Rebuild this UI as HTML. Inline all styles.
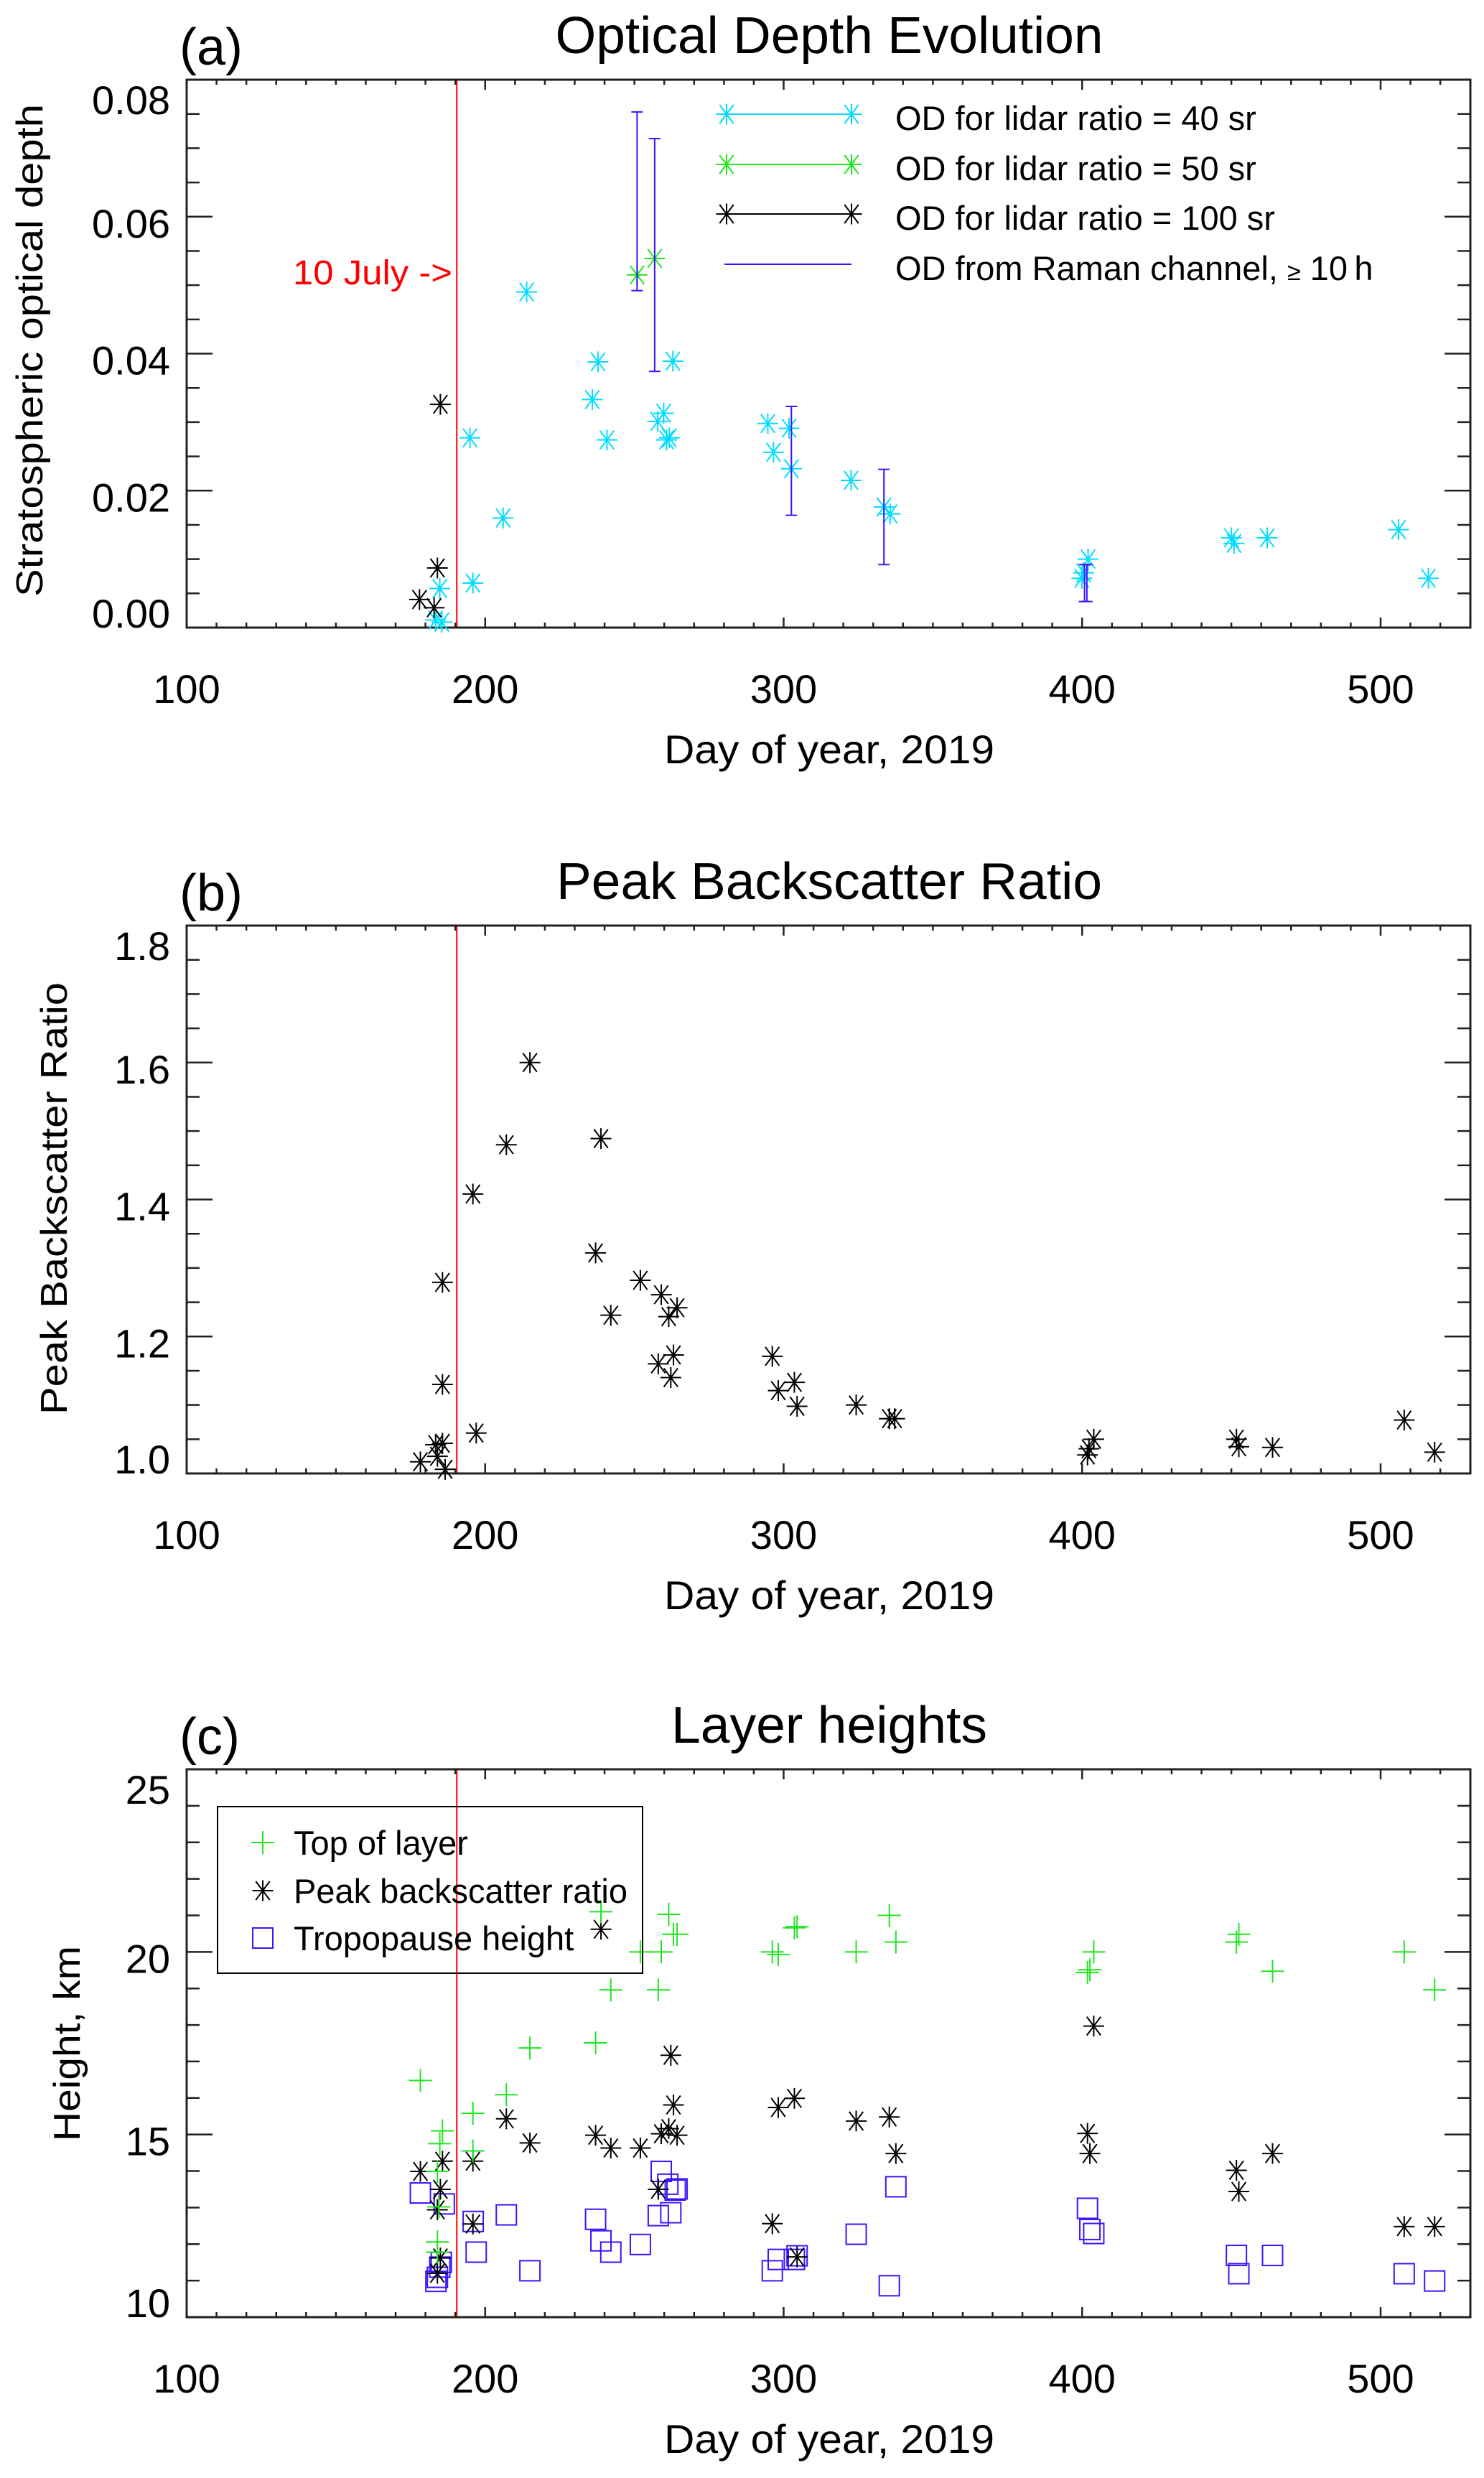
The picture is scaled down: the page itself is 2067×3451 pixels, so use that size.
<!DOCTYPE html>
<html><head><meta charset="utf-8"><style>
html,body{margin:0;padding:0;background:#fff;}
svg{display:block;font-family:"Liberation Sans",Arial,sans-serif;}
</style></head><body>
<svg id="fig" width="2067" height="3451" viewBox="0 0 2067 3451" xmlns="http://www.w3.org/2000/svg"></svg>
<script>
// ---------- Panel (a) data ----------
const od40Days = [213.9,194.9,206.0,195.9,184.8,183.4,185.5,237.8,235.9,240.8,262.9,259.8,257.8,261.7,260.8,294.7,301.8,296.6,302.6,322.6,333.6,335.7,402.0,400.5,399.9,450.0,450.9,462.0,506.0,516.0];
const od40Vals = [0.0490,0.0277,0.0160,0.0065,0.0057,0.0011,0.0008,0.0388,0.0333,0.0274,0.0389,0.0313,0.0301,0.0277,0.0274,0.0298,0.0291,0.0256,0.0232,0.0215,0.0176,0.0166,0.0100,0.0080,0.0072,0.0131,0.0123,0.0131,0.0143,0.0072];
const od50Days = [250.9,256.8];
const od50Vals = [0.0515,0.0539];
const od100Days = [185.0,184.0,178.0,182.9];
const od100Vals = [0.0326,0.0087,0.0041,0.0029];
const ramanDays = [250.9,256.8,302.6,333.6,400.8,401.6];
const ramanLow = [0.0492,0.0374,0.0164,0.0092,0.0038,0.0038];
const ramanHigh = [0.0753,0.0714,0.0323,0.0231,0.0092,0.0092];
const odTicks = ["0.00","0.02","0.04","0.06","0.08"];
// ---------- Panel (b) data ----------
const bsrDays = [215.0,207.1,238.8,195.9,237.0,252.0,259.0,242.1,261.5,264.3,185.7,185.7,296.2,258.0,263.1,262.2,298.2,303.6,304.5,324.3,335.4,337.2,197.0,507.9,518.1,402.3,403.9,401.8,451.7,452.5,463.8,178.3,183.4,185.7,184.0,186.6];
const bsrVals = [1.600,1.480,1.489,1.408,1.322,1.282,1.261,1.231,1.229,1.242,1.279,1.130,1.171,1.160,1.173,1.140,1.121,1.133,1.098,1.100,1.080,1.080,1.059,1.078,1.031,1.036,1.050,1.027,1.050,1.039,1.038,1.017,1.042,1.044,1.025,1.006];
const bsrTicks = ["1.0","1.2","1.4","1.6","1.8"];
// ---------- Panel (c) data ----------
const topDays = [178.3,185.7,184.8,184.0,184.5,184.0,184.0,195.9,195.9,207.1,215.0,237.0,238.8,242.1,252.0,258.0,259.0,261.5,263.1,264.3,296.2,298.2,303.6,304.5,324.3,335.4,337.6,401.8,402.6,403.9,451.7,452.5,463.8,507.9,518.1];
const topVals = [16.48,15.10,14.75,13.99,13.02,12.06,11.78,15.58,14.55,16.09,17.37,17.51,21.10,18.96,20.00,18.96,20.00,21.03,20.48,20.48,20.00,19.93,20.66,20.69,20.00,21.00,20.27,19.44,19.51,20.00,20.27,20.48,19.47,20.00,18.96];
const peakDays = [178.3,185.7,185.0,184.0,185.0,184.0,195.9,195.9,207.1,215.0,237.0,238.8,242.1,252.0,258.0,259.0,261.5,262.2,263.1,264.3,296.2,298.2,303.6,304.5,324.3,335.4,337.6,401.8,402.6,403.9,451.7,452.5,463.8,507.9,518.1];
const peakVals = [13.99,14.27,13.50,12.94,11.62,11.20,14.27,12.55,15.43,14.77,14.98,20.62,14.63,14.63,13.50,15.02,15.16,17.17,15.81,14.98,12.56,15.74,15.99,11.65,15.37,15.48,14.48,15.03,14.48,17.97,14.02,13.44,14.48,12.48,12.48];
const tropDays = [178.3,186.3,184.0,184.8,185.3,183.5,197.0,196.0,207.1,215.0,237.0,238.8,242.1,252.0,259.0,261.2,258.0,262.2,263.7,264.3,296.2,298.2,303.6,304.5,324.3,335.4,337.6,401.8,402.6,403.9,451.7,452.5,463.8,507.9,518.1];
const tropVals = [13.40,13.10,11.09,11.37,11.50,10.98,11.78,12.62,12.80,11.27,12.68,12.09,11.78,11.99,13.99,13.64,12.78,12.86,13.48,13.51,11.27,11.58,11.58,11.68,12.27,10.86,13.57,12.98,12.40,12.29,11.69,11.19,11.69,11.19,10.99];
const hTicks = ["10","15","20","25"];
const xTicks = ["100","200","300","400","500"];

const svg = document.getElementById('fig');
const NS = 'http://www.w3.org/2000/svg';
const X0 = 260, X1 = 2048, DMIN = 100, DMAX = 530.07;
const xs = d => X0 + (d - DMIN) / (DMAX - DMIN) * (X1 - X0);
const CYAN = '#00dcff', GREEN = '#1ee61e', BLUE = '#3c14ff', AX = '#222';

function el(tag, attrs, parent) {
  const e = document.createElementNS(NS, tag);
  for (const k in attrs) e.setAttribute(k, attrs[k]);
  (parent || svg).appendChild(e);
  return e;
}
function txt(s, attrs, parent) { const t = el('text', attrs, parent); t.textContent = s; return t; }
function line(x1,y1,x2,y2,stroke,w,parent){ return el('line',{x1,y1,x2,y2,stroke,'stroke-width':w},parent); }
function star(g, x, y, color) {
  const r = 14.5, d = 13;
  line(x, y - r, x, y + r, color, 2, g);
  line(x - r, y, x + r, y, color, 2, g);
  line(x - d*0.75, y - d, x + d*0.75, y + d, color, 2, g);
  line(x - d*0.75, y + d, x + d*0.75, y - d, color, 2, g);
}
function plus(g, x, y, color) {
  line(x, y - 16, x, y + 16, color, 2, g);
  line(x - 16, y, x + 16, y, color, 2, g);
}
function square(g, x, y, color) {
  el('rect', {x: x - 14, y: y - 14, width: 28, height: 28, fill: 'none', stroke: color, 'stroke-width': 2}, g);
}

function panel(o) {
  const top = o.top, bot = top + 763;
  const ys = v => bot - (v - o.ymin) / (o.ymax - o.ymin) * 763;
  const g = el('g', {});
  
  
  // letter + title
  const lt = txt(o.letter, {x: 250, y: top - 21, 'font-size': 72, fill: '#000'}, g);
  
  
  const tt = txt(o.title, {x: 1155, y: top - 37, 'font-size': 72, 'text-anchor': 'middle', fill: '#000', textLength: o.titleLen, lengthAdjust: 'spacingAndGlyphs'}, g);
  
  
  // red line (10 July)
  const rl = line(xs(190.5), top, xs(190.5), bot, '#ff0000', 2, g);
  
  
  // axes box
  const box = el('rect', {x: X0, y: top, width: X1 - X0, height: 763, fill: 'none', stroke: AX, 'stroke-width': 3}, g);
  
  
  // x ticks
  for (let d = 100; d <= 530; d += 10) {
    const x = xs(d), maj = d % 100 === 0, L = maj ? 14 : 7;
    line(x, bot, x, bot - L, AX, 2.5, g);
    line(x, top, x, top + L, AX, 2.5, g);
  }
  xTicks.forEach(s => {
    const t = txt(s, {x: xs(+s), y: bot + 105, 'font-size': 56, 'text-anchor': 'middle', fill: '#000'}, g);
    
    
  });
  const xt = txt('Day of year, 2019', {x: 1155, y: bot + 189, 'font-size': 56, 'text-anchor': 'middle', fill: '#000', textLength: 460, lengthAdjust: 'spacingAndGlyphs'}, g);
  
  
  // y ticks
  const nMinor = Math.round((o.ymax - o.ymin) / o.minor);
  for (let i = 0; i <= nMinor; i++) {
    const v = o.ymin + i * o.minor, y = ys(v);
    const maj = i % o.per === 0, L = maj ? 36 : 18;
    line(X0, y, X0 + L, y, AX, 2.5, g);
    line(X1, y, X1 - L, y, AX, 2.5, g);
  }
  o.ticks.forEach(s => {
    const y = ys(+s);
    const by = Math.min(bot, Math.max(top + 48, y + 29));
    const t = txt(s, {x: 237, y: by, 'font-size': 56, 'text-anchor': 'end', fill: '#000'}, g);
    
    
  });
  const yt = txt(o.ytitle, {x: 0, y: 0, 'font-size': 52, 'text-anchor': 'middle', fill: '#000', textLength: o.ytLen, lengthAdjust: 'spacingAndGlyphs', transform: `translate(${o.ytX},${o.ytY}) rotate(-90)`}, g);
  
  
  return {g, ys, top, bot};
}

// ===== Panel (a) =====
const A = panel({name: 'optical-depth-panel', letter: '(a)', title: 'Optical Depth Evolution', titleLen: 763, top: 111, ymin: 0, ymax: 0.08, minor: 0.005, per: 4, ticks: odTicks, ytitle: 'Stratospheric optical depth', ytLen: 686, ytX: 59, ytY: 488});
{
  const rt = txt('10 July ->', {x: 630, y: 396, 'font-size': 48, 'text-anchor': 'end', fill: '#ff0000', textLength: 222, lengthAdjust: 'spacingAndGlyphs'}, A.g);
  
  
  const s40 = el('g', {}, A.g);
  
  
  od40Days.forEach((d, i) => star(s40, xs(d), A.ys(od40Vals[i]), CYAN));
  const s50 = el('g', {}, A.g);
  
  
  od50Days.forEach((d, i) => star(s50, xs(d), A.ys(od50Vals[i]), GREEN));
  const s100 = el('g', {}, A.g);
  
  
  od100Days.forEach((d, i) => star(s100, xs(d), A.ys(od100Vals[i]), '#000'));
  const rg = el('g', {}, A.g);
  
  
  ramanDays.forEach((d, i) => {
    const x = xs(d), y1 = A.ys(ramanHigh[i]), y2 = A.ys(ramanLow[i]);
    line(x, y1, x, y2, BLUE, 2, rg);
    line(x - 8, y1, x + 8, y1, BLUE, 2, rg);
    line(x - 8, y2, x + 8, y2, BLUE, 2, rg);
  });
  // legend
  const lg = el('g', {}, A.g);
  
  
  const rows = [['OD for lidar ratio = 40 sr', CYAN, 159], ['OD for lidar ratio = 50 sr', GREEN, 229], ['OD for lidar ratio = 100 sr', '#000', 298]];
  rows.forEach(r => {
    const e = el('g', {}, lg);
    
    
    line(1012, r[2], 1186, r[2], r[1], 2, e);
    star(e, 1012, r[2], r[1]);
    star(e, 1186, r[2], r[1]);
    txt(r[0], {x: 1247, y: r[2] + 22, 'font-size': 47, fill: '#000'}, e);
  });
  const e4 = el('g', {}, lg);
  
  
  line(1009, 368, 1186, 368, BLUE, 2, e4);
  const t4 = txt('OD from Raman channel, ', {x: 1247, y: 390, 'font-size': 47, fill: '#000'}, e4);
  const ts = el('tspan', {'font-size': 34}, t4); ts.textContent = '≥';
  const ts2 = el('tspan', {'font-size': 47}, t4); ts2.textContent = ' 10\u2009h';
}

// ===== Panel (b) =====
const B = panel({name: 'backscatter-panel', letter: '(b)', title: 'Peak Backscatter Ratio', titleLen: 760, top: 1289, ymin: 1.0, ymax: 1.8, minor: 0.05, per: 4, ticks: bsrTicks, ytitle: 'Peak Backscatter Ratio', ytLen: 602, ytX: 93, ytY: 1669});
{
  const s = el('g', {}, B.g);
  
  
  bsrDays.forEach((d, i) => star(s, xs(d), B.ys(bsrVals[i]), '#000'));
}

// ===== Panel (c) =====
const C = panel({name: 'layer-heights-panel', letter: '(c)', title: 'Layer heights', titleLen: 440, top: 2464, ymin: 10, ymax: 25, minor: 1, per: 5, ticks: hTicks, ytitle: 'Height, km', ytLen: 272, ytX: 111, ytY: 2846});
{
  const sq = el('g', {}, C.g);
  
  
  tropDays.forEach((d, i) => square(sq, xs(d), C.ys(tropVals[i]), BLUE));
  const pk = el('g', {}, C.g);
  
  
  peakDays.forEach((d, i) => star(pk, xs(d), C.ys(peakVals[i]), '#000'));
  const tp = el('g', {}, C.g);
  
  
  topDays.forEach((d, i) => plus(tp, xs(d), C.ys(topVals[i]), GREEN));
  // legend
  const lg = el('g', {}, C.g);
  
  
  el('rect', {x: 303, y: 2516, width: 592, height: 232, fill: 'none', stroke: '#000', 'stroke-width': 2}, lg);
  const e1 = el('g', {}, lg);
  
  
  plus(e1, 366, 2566, GREEN);
  txt('Top of layer', {x: 409, y: 2583, 'font-size': 47, fill: '#000'}, e1);
  const e2 = el('g', {}, lg);
  
  
  star(e2, 366, 2633, '#000');
  txt('Peak backscatter ratio', {x: 409, y: 2650, 'font-size': 47, fill: '#000'}, e2);
  const e3 = el('g', {}, lg);
  
  
  square(e3, 366, 2699, BLUE);
  txt('Tropopause height', {x: 409, y: 2716, 'font-size': 47, fill: '#000'}, e3);
}
</script>
</body></html>
